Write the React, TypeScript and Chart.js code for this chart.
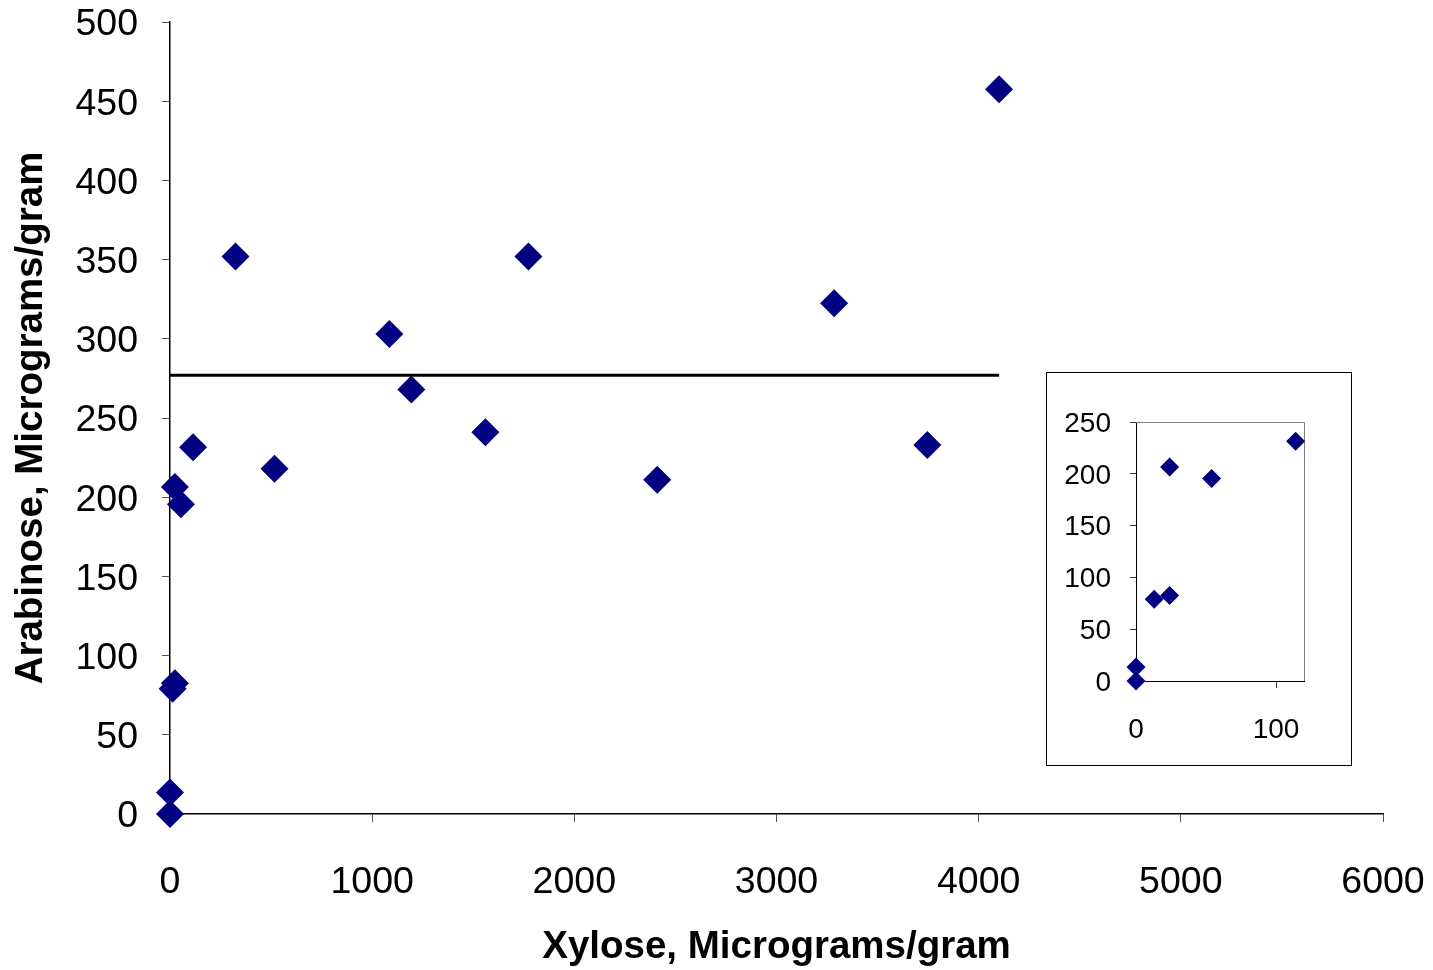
import React, { useEffect, useRef } from "react";
import { Chart, registerables } from "chart.js";

Chart.register(...registerables);

// Sample measurements (µg/g)
const xyloseValues = [0, 0, 13, 24, 24, 54, 114, 324, 517, 1085, 1194, 1560, 1773, 2410, 3285, 3746, 4101];
const arabinoseValues = [0, 13.5, 79, 82.5, 206.5, 195.5, 231.5, 352, 218, 303, 268, 241, 352, 211, 322.5, 233, 457.5];

// Reference level drawn across the populated x range
const referenceLevel = 277;
const referenceSpan = [0, 4101];

// Low-xylose subset shown in the inset
const insetXMax = 120;
const insetXTicks = [0, 100];

const xTitle = "Xylose, Micrograms/gram";
const yTitle = "Arabinose, Micrograms/gram";

const FONT = "'Liberation Sans', Arial, sans-serif";
const NAVY = "#000080";

const points = xyloseValues.map((x, i) => ({ x, y: arabinoseValues[i] }));

const plotFrame = {
  id: "plotFrame",
  beforeDatasetsDraw(chart: any, _args: any, opts: any) {
    if (!opts || !opts.enabled) return;
    const { left, top, right, bottom } = chart.chartArea;
    const ctx = chart.ctx;
    ctx.save();
    ctx.strokeStyle = "#808080";
    ctx.lineWidth = 1;
    ctx.beginPath();
    ctx.moveTo(left, top + 0.5);
    ctx.lineTo(right + 0.5, top + 0.5);
    ctx.lineTo(right + 0.5, bottom);
    ctx.stroke();
    ctx.restore();
  },
};

const plainNumber = (v: any) => String(v);

// Fixed axis box sizes; tick-label overhang is absorbed by the layout padding.
const fixHeight = (h: number) => (s: any) => {
  s.height = h;
  s.paddingLeft = 0;
  s.paddingRight = 0;
};
const fixWidth = (w: number) => (s: any) => {
  s.width = w;
  s.paddingTop = 0;
  s.paddingBottom = 0;
};

function MainChart() {
  const ref = useRef<HTMLCanvasElement>(null);
  useEffect(() => {
    if (!ref.current) return;
    const chart = new Chart(ref.current, {
      type: "scatter",
      data: {
        datasets: [
          {
            type: "line",
            data: referenceSpan.map((x) => ({ x, y: referenceLevel })),
            borderColor: "#000000",
            borderWidth: 3,
            pointRadius: 0,
            fill: false,
          } as any,
          {
            data: points,
            pointStyle: "rectRot",
            pointRadius: 14,
            pointHoverRadius: 14,
            backgroundColor: NAVY,
            borderColor: NAVY,
            borderWidth: 0,
            clip: false,
          } as any,
        ],
      },
      options: {
        animation: false,
        responsive: false,
        events: [],
        layout: { padding: { left: 0, right: 50, top: 22, bottom: 0 } },
        plugins: { legend: { display: false }, tooltip: { enabled: false }, plotFrame: { enabled: false } } as any,
        scales: {
          x: {
            type: "linear",
            min: 0,
            max: 6000,
            afterFit: fixHeight(156),
            grid: { display: true, drawOnChartArea: false, drawTicks: true, tickLength: 8, tickColor: "#555555" },
            border: { display: true, color: "#000000", width: 1.5 },
            ticks: {
              stepSize: 1000,
              color: "#000000",
              padding: 38,
              font: { family: FONT, size: 37.5 },
              callback: plainNumber,
            },
            title: {
              display: true,
              text: xTitle,
              color: "#000000",
              font: { family: FONT, size: 38.5, weight: "bold" },
              padding: { top: 0, bottom: 0 },
            },
          },
          y: {
            type: "linear",
            min: 0,
            max: 500,
            afterFit: fixWidth(170),
            grid: { display: true, drawOnChartArea: false, drawTicks: true, tickLength: 8, tickColor: "#555555" },
            border: { display: true, color: "#000000", width: 1.5 },
            ticks: {
              stepSize: 50,
              color: "#000000",
              padding: 24,
              labelOffset: 3,
              font: { family: FONT, size: 37.5 },
              callback: plainNumber,
            },
            title: {
              display: true,
              text: yTitle,
              color: "#000000",
              font: { family: FONT, size: 38.5, weight: "bold" },
              padding: { top: 8, bottom: 0 },
            },
          },
        },
      },
      plugins: [plotFrame],
    });
    return () => chart.destroy();
  }, []);
  return <canvas ref={ref} width={1433} height={970} style={{ position: "absolute", left: 0, top: 0 }} />;
}

function InsetChart() {
  const ref = useRef<HTMLCanvasElement>(null);
  useEffect(() => {
    if (!ref.current) return;
    const insetPoints = points.filter((p) => p.x <= insetXMax);
    const chart = new Chart(ref.current, {
      type: "scatter",
      data: {
        datasets: [
          {
            data: insetPoints,
            pointStyle: "rectRot",
            pointRadius: 9.5,
            pointHoverRadius: 9.5,
            backgroundColor: NAVY,
            borderColor: NAVY,
            borderWidth: 0,
            clip: false,
          } as any,
        ],
      },
      options: {
        animation: false,
        responsive: false,
        events: [],
        layout: { padding: { left: 0, right: 47, top: 49, bottom: 0 } },
        plugins: { legend: { display: false }, tooltip: { enabled: false }, plotFrame: { enabled: true } } as any,
        scales: {
          x: {
            type: "linear",
            min: 0,
            max: insetXMax,
            afterBuildTicks: (s: any) => {
              s.ticks = insetXTicks.map((value) => ({ value }));
            },
            afterFit: fixHeight(391 - 308),
            grid: { display: true, drawOnChartArea: false, drawTicks: true, tickLength: 7, tickColor: "#333333" },
            border: { display: true, color: "#000000", width: 1 },
            ticks: {
              color: "#000000",
              padding: 25,
              font: { family: FONT, size: 28 },
              callback: plainNumber,
            },
          },
          y: {
            type: "linear",
            min: 0,
            max: 250,
            afterFit: fixWidth(89),
            grid: { display: true, drawOnChartArea: false, drawTicks: true, tickLength: 6, tickColor: "#333333" },
            border: { display: true, color: "#000000", width: 1 },
            ticks: {
              stepSize: 50,
              color: "#000000",
              padding: 19,
              labelOffset: 2,
              font: { family: FONT, size: 28 },
              callback: plainNumber,
            },
          },
        },
      },
      plugins: [plotFrame],
    });
    return () => chart.destroy();
  }, []);
  return (
    <div
      style={{
        position: "absolute",
        left: 1046,
        top: 372,
        width: 304,
        height: 392,
        border: "1px solid #000000",
        background: "#ffffff",
      }}
    >
      <canvas ref={ref} width={304} height={391} style={{ display: "block" }} />
    </div>
  );
}

export default function App() {
  return (
    <div style={{ position: "fixed", left: 0, top: 0, width: 1433, height: 970, background: "#ffffff", overflow: "hidden" }}>
      <MainChart />
      <InsetChart />
    </div>
  );
}
